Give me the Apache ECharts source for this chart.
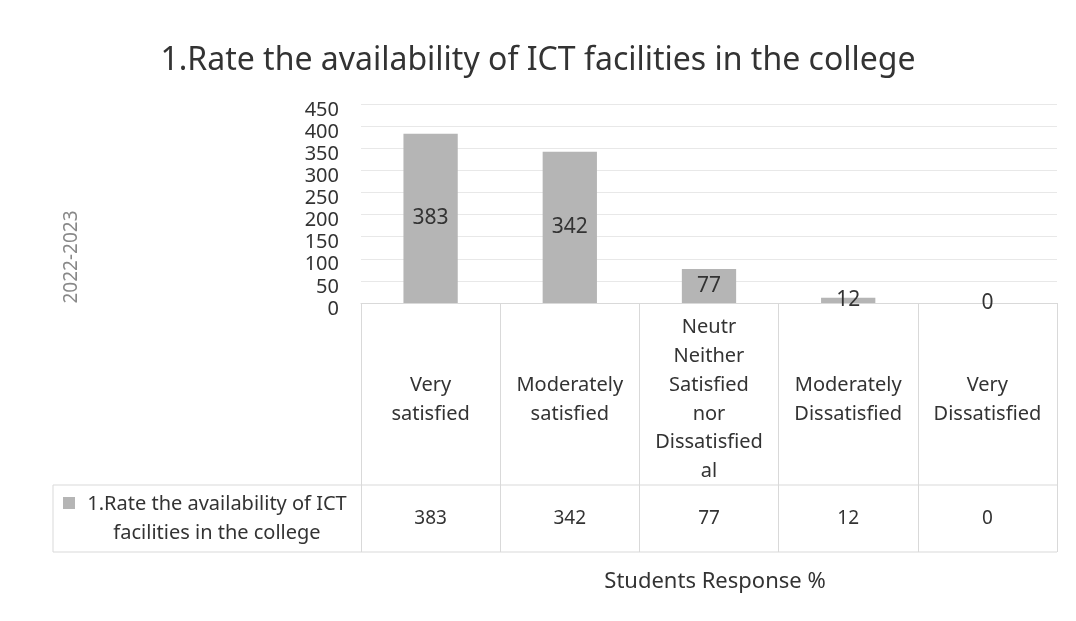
<!DOCTYPE html>
<html lang="en">
<head>
    <meta charset="UTF-8">
    <title>ICT facilities rating</title>
    <script src="https://cdn.jsdelivr.net/npm/echarts@6/dist/echarts.min.js"></script>
    <style>
        html, body { margin: 0; padding: 0; background: #fff; }
    </style>
</head>
<body>
    <div id="chart" style="width: 1076px; height: 621px;"></div>
    <script>
        // data
        var categories = [
            'Very\nsatisfied',
            'Moderately\nsatisfied',
            'Neutr\nNeither\nSatisfied\nnor\nDissatisfied\nal',
            'Moderately\nDissatisfied',
            'Very\nDissatisfied'
        ];
        var responses = [383, 342, 77, 12, 0];
        var seriesName = '1.Rate the availability of ICT facilities in the college';
        var rowHeader = '1.Rate the availability of ICT\nfacilities in the college';
        var yearLabel = '2022-2023';
        var xTitle = 'Students Response %';
        var yMin = 0, yMax = 450, yStep = 50;

        // layout
        var FONT = 'Noto Sans';
        var gridLeft = 361, gridRight = 19, gridTop = 104, gridBottom = 318;
        var W = 1076, H = 621;
        var axisY = H - gridBottom;          // 303
        var headerH = 182, valueRowH = 67;
        var tableLeft = 53;
        var LH = 28.8;
        var lineColor = '#d9d9d9';
        var barColor = '#b5b5b5';

        var maxLines = Math.max.apply(null, categories.map(function (c) { return c.split('\n').length; }));
        var xData = categories.map(function (c) {
            var n = c.split('\n').length;
            return { value: c, textStyle: { padding: [(maxLines - n) * LH / 2, 0, 0, 0] } };
        });

        var chart = echarts.init(document.getElementById('chart'));

        var rowY = axisY + headerH, botY = rowY + valueRowH;

        var option = {
            backgroundColor: '#fff',
            title: [{
                text: seriesName,
                left: 'center',
                top: 40,
                textStyle: { fontFamily: FONT, fontSize: 32, fontWeight: 'normal', color: '#333' }
            }, {
                text: xTitle,
                left: 710,
                top: 566,
                textAlign: 'center',
                textStyle: { fontFamily: FONT, fontSize: 22, fontWeight: 'normal', color: '#333' }
            }],
            grid: { left: gridLeft, right: gridRight, top: gridTop, bottom: gridBottom, containLabel: false },
            xAxis: [{
                type: 'category',
                data: xData,
                axisLine: { show: true, lineStyle: { color: lineColor } },
                axisTick: { show: true, alignWithLabel: false, length: headerH + valueRowH, lineStyle: { color: lineColor } },
                axisLabel: {
                    interval: 0, margin: 10, fontFamily: FONT, fontSize: 20,
                    lineHeight: LH, color: '#333', align: 'center'
                }
            }, {
                type: 'category',
                data: categories,
                position: 'bottom',
                offset: headerH,
                axisLine: { show: false },
                axisTick: { show: false },
                axisLabel: {
                    interval: 0, margin: 22, fontFamily: FONT, fontSize: 19, lineHeight: 24, color: '#333',
                    formatter: function (v, i) { return String(responses[i]); }
                }
            }],
            yAxis: {
                type: 'value',
                min: yMin, max: yMax, interval: yStep,
                axisLine: { show: false },
                axisTick: { show: false },
                axisLabel: {
                    fontFamily: FONT, fontSize: 20, color: '#333', margin: 22, lineHeight: 12,
                    verticalAlign: 'top', showMinLabel: true, showMaxLabel: true, hideOverlap: false
                },
                splitLine: { lineStyle: { color: '#e8e8e8' } }
            },
            series: [{
                name: seriesName,
                type: 'bar',
                data: responses,
                barWidth: '39%',
                itemStyle: { color: barColor },
                label: {
                    show: true, position: 'inside',
                    fontFamily: FONT, fontSize: 21, color: '#333'
                }
            }],
            graphic: [
                // table rules outside the axis
                { type: 'line', shape: { x1: tableLeft, y1: rowY, x2: W - gridRight, y2: rowY }, style: { stroke: lineColor } },
                { type: 'line', shape: { x1: tableLeft, y1: botY, x2: W - gridRight, y2: botY }, style: { stroke: lineColor } },
                { type: 'line', shape: { x1: tableLeft, y1: rowY, x2: tableLeft, y2: botY }, style: { stroke: lineColor } },
                // legend key and row header
                { type: 'rect', shape: { x: 63, y: 497, width: 12, height: 12 }, style: { fill: barColor } },
                {
                    type: 'text', x: 217, y: rowY + valueRowH / 2,
                    style: {
                        text: rowHeader, fontFamily: FONT, fontSize: 20, lineHeight: 29,
                        fill: '#333', align: 'center', verticalAlign: 'middle'
                    }
                },
                // year label on the value axis
                {
                    type: 'text', x: 72, y: 257, rotation: Math.PI / 2,
                    style: {
                        text: yearLabel, fontFamily: FONT, fontSize: 19,
                        fill: '#888', align: 'center', verticalAlign: 'middle'
                    }
                }
            ]
        };

        chart.setOption(option);
    </script>
</body>
</html>
